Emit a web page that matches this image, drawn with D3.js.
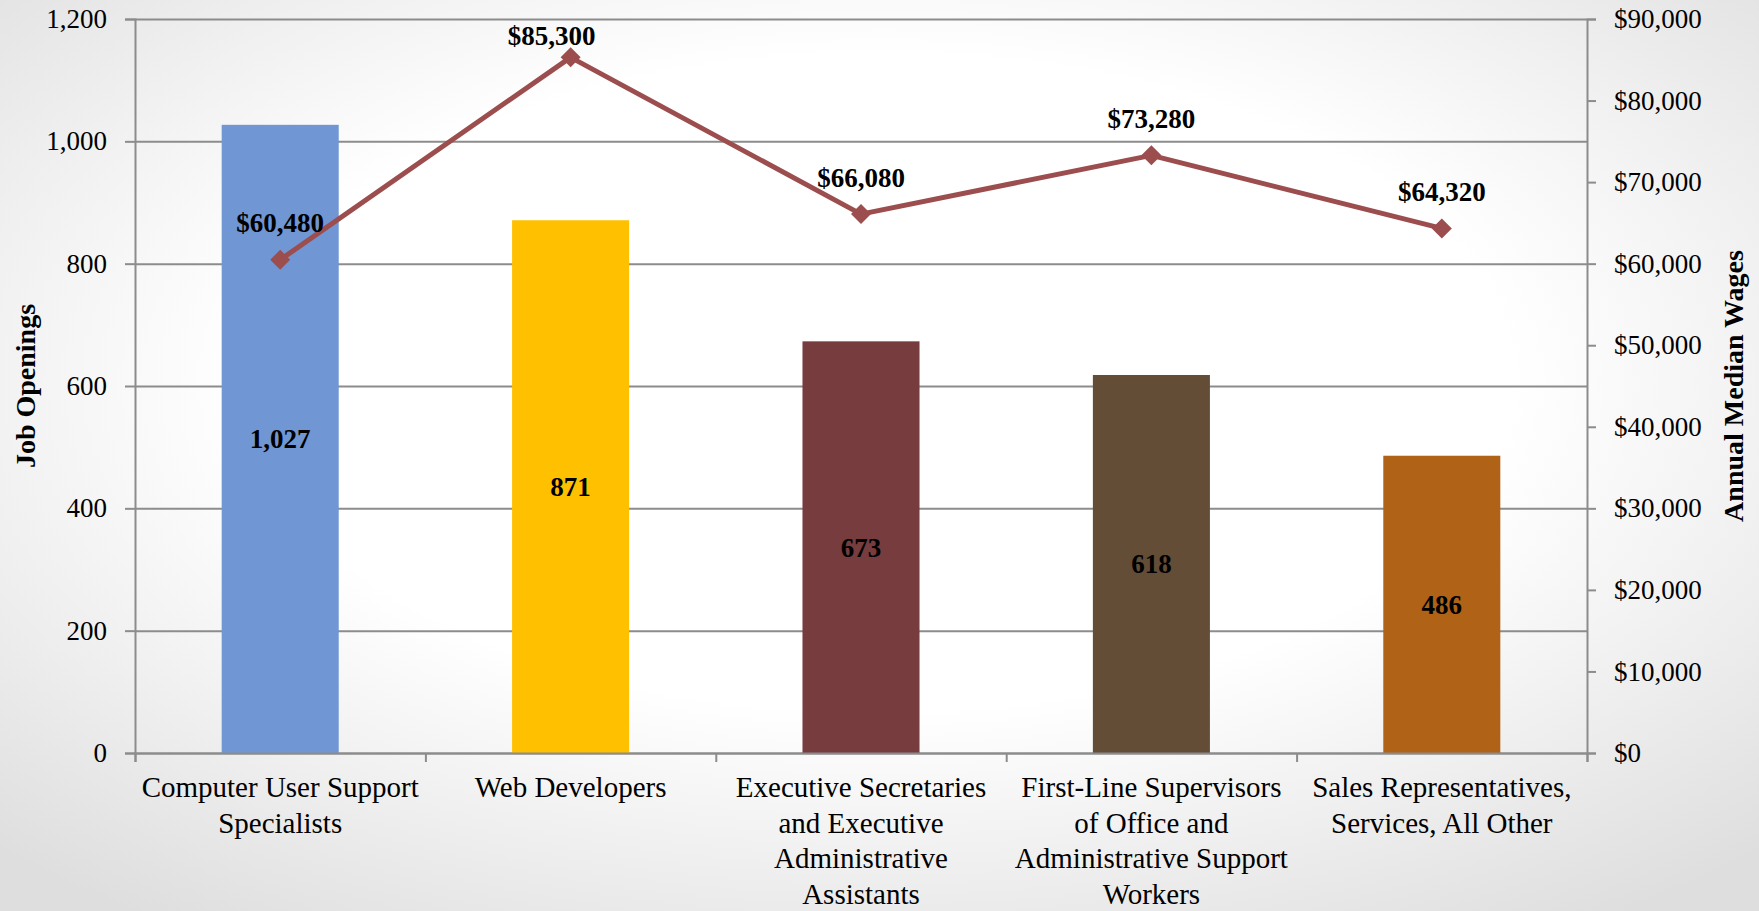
<!DOCTYPE html>
<html lang="en">
    <head>
        <meta charset="utf-8">
        <title>Job Openings and Annual Median Wages</title>
        <script src="https://d3js.org/d3.v7.min.js"></script>
        <style type="text/css">
          body {
            margin: 0;
            overflow: hidden;
          }
          svg {
            width: 1759px;
            height: 911px;
            display: block;
            font-family: "Liberation Serif", "Times New Roman", serif;
          }
          .tick text {
            font-size: 27px;
            fill: #000;
          }
          .catlabel {
            font-size: 29px;
            fill: #000;
          }
          .axistitle {
            font-size: 28px;
            font-weight: bold;
          }
          .datalabel {
            font-size: 27px;
            font-weight: bold;
          }
        </style>
    </head>
    <body>
        <svg></svg>

        <script type="text/javascript">

        // data
        const categories = ["Computer User Support Specialists", "Web Developers",
            "Executive Secretaries and Executive Administrative Assistants",
            "First-Line Supervisors of Office and Administrative Support Workers",
            "Sales Representatives, Services, All Other"];
        // how each category label wraps under the axis
        const categoryLines = [
            ["Computer User Support", "Specialists"],
            ["Web Developers"],
            ["Executive Secretaries", "and Executive", "Administrative", "Assistants"],
            ["First-Line Supervisors", "of Office and", "Administrative Support", "Workers"],
            ["Sales Representatives,", "Services, All Other"]
        ];
        const jobOpenings = [1027, 871, 673, 618, 486];
        const medianWages = [60480, 85300, 66080, 73280, 64320];
        const leftTicks = [0, 200, 400, 600, 800, 1000, 1200];
        const rightTicks = [0, 10000, 20000, 30000, 40000, 50000, 60000, 70000, 80000, 90000];

        const barColors = ["#7096D3", "#FFC000", "#763C3E", "#634D36", "#B06316"];
        const lineColor = "#9C4E4E";
        const axisColor = "#8C8C8C";

        // plot area
        const plotLeft = 135, plotRight = 1587, plotTop = 19, plotBottom = 753;

        const svg = d3.select("svg");

        // background gradient
        const defs = svg.append("defs");
        const grad = defs.append("radialGradient")
            .attr("id", "bg")
            .attr("cx", "50%").attr("cy", "42%").attr("r", "72%");
        grad.append("stop").attr("offset", "0.5").attr("stop-color", "#ffffff");
        grad.append("stop").attr("offset", "1").attr("stop-color", "#dedede");
        svg.append("rect")
            .attr("width", 1759).attr("height", 911)
            .attr("fill", "url(#bg)");

        // scales
        const x = d3.scaleBand().domain(categories).range([plotLeft, plotRight]).padding(0);
        const xIdx = d3.scaleLinear().domain([0, categories.length]).range([plotLeft, plotRight]);
        const yLeft = d3.scaleLinear().domain([0, 1200]).range([plotBottom, plotTop]);
        const yRight = d3.scaleLinear().domain([0, 90000]).range([plotBottom, plotTop]);
        const color = d3.scaleOrdinal().domain(categories).range(barColors);
        const barW = x.bandwidth() * 0.403;

        // strip d3's default axis font so the css one applies
        function styleAxis(g) {
            g.attr("font-family", null).attr("font-size", null);
            g.select(".domain").attr("stroke", axisColor).attr("stroke-width", 2);
            g.selectAll(".tick line").attr("stroke", axisColor).attr("stroke-width", 2);
        }

        // gridlines
        svg.append("g")
            .attr("transform", "translate(" + plotLeft + ",0)")
            .call(d3.axisLeft(yLeft).tickValues(leftTicks).tickSize(-(plotRight - plotLeft)).tickFormat(""))
            .call(g => g.select(".domain").remove())
            .call(g => g.selectAll("line").attr("stroke", axisColor).attr("stroke-width", 2));

        // bars
        const rows = categories.map((c, i) => ({cat: c, jobs: jobOpenings[i], wage: medianWages[i]}));

        svg.append("g").selectAll("rect")
            .data(rows)
            .enter()
            .append("rect")
            .attr("x", d => x(d.cat) + (x.bandwidth() - barW) / 2)
            .attr("y", d => yLeft(d.jobs))
            .attr("width", barW)
            .attr("height", d => plotBottom - yLeft(d.jobs))
            .attr("fill", d => color(d.cat));

        // left axis
        svg.append("g")
            .attr("transform", "translate(" + plotLeft + ",0)")
            .call(d3.axisLeft(yLeft).tickValues(leftTicks).tickSize(10).tickPadding(18).tickFormat(d3.format(",")))
            .call(styleAxis);

        // right axis
        svg.append("g")
            .attr("transform", "translate(" + plotRight + ",0)")
            .call(d3.axisRight(yRight).tickValues(rightTicks).tickSize(9).tickPadding(18).tickFormat(d3.format("$,")))
            .call(styleAxis);

        // category axis (ticks between categories)
        svg.append("g")
            .attr("transform", "translate(0," + plotBottom + ")")
            .call(d3.axisBottom(xIdx).tickValues(d3.range(categories.length + 1)).tickSize(9).tickFormat(""))
            .call(styleAxis);

        // category labels
        svg.append("g").selectAll("text")
            .data(categories)
            .enter()
            .append("text")
            .attr("class", "catlabel")
            .attr("text-anchor", "middle")
            .each(function(d, i) {
                const t = d3.select(this);
                categoryLines[i].forEach((line, j) => {
                    t.append("tspan")
                        .attr("x", x(d) + x.bandwidth() / 2)
                        .attr("y", plotBottom + 44 + j * 35.7)
                        .text(line);
                });
            });

        // bar value labels, centred in each bar
        svg.append("g").selectAll("text")
            .data(rows)
            .enter()
            .append("text")
            .attr("class", "datalabel")
            .attr("text-anchor", "middle")
            .attr("x", d => x(d.cat) + x.bandwidth() / 2)
            .attr("y", d => (yLeft(d.jobs) + plotBottom) / 2)
            .attr("dy", "0.35em")
            .text(d => d3.format(",")(d.jobs));

        // wage line
        const line = d3.line()
            .x(d => x(d.cat) + x.bandwidth() / 2)
            .y(d => yRight(d.wage));

        svg.append("path")
            .datum(rows)
            .attr("d", line)
            .attr("fill", "none")
            .attr("stroke", lineColor)
            .attr("stroke-width", 5)
            .attr("stroke-linejoin", "round");

        // diamond markers
        svg.append("g").selectAll("path")
            .data(rows)
            .enter()
            .append("path")
            .attr("d", "M0,-10L10,0L0,10L-10,0Z")
            .attr("transform", d => "translate(" + (x(d.cat) + x.bandwidth() / 2) + "," + yRight(d.wage) + ")")
            .attr("fill", lineColor);

        // wage labels above the markers; the top one is squeezed down and nudged left
        svg.append("g").selectAll("text")
            .data(rows)
            .enter()
            .append("text")
            .attr("class", "datalabel")
            .attr("text-anchor", "middle")
            .attr("x", d => x(d.cat) + x.bandwidth() / 2 - (yRight(d.wage) - 37 < 36 ? 19 : 0))
            .attr("y", d => Math.max(yRight(d.wage) - 37, 36))
            .attr("dy", "0.35em")
            .text(d => d3.format("$,")(d.wage));

        // axis titles
        svg.append("text")
            .attr("class", "axistitle")
            .attr("text-anchor", "middle")
            .attr("transform", "translate(25," + (plotTop + plotBottom) / 2 + ") rotate(-90)")
            .attr("dy", "0.35em")
            .text("Job Openings");

        svg.append("text")
            .attr("class", "axistitle")
            .attr("text-anchor", "middle")
            .attr("transform", "translate(1733," + (plotTop + plotBottom) / 2 + ") rotate(-90)")
            .attr("dy", "0.35em")
            .text("Annual Median Wages");

        </script>
    </body>
</html>
